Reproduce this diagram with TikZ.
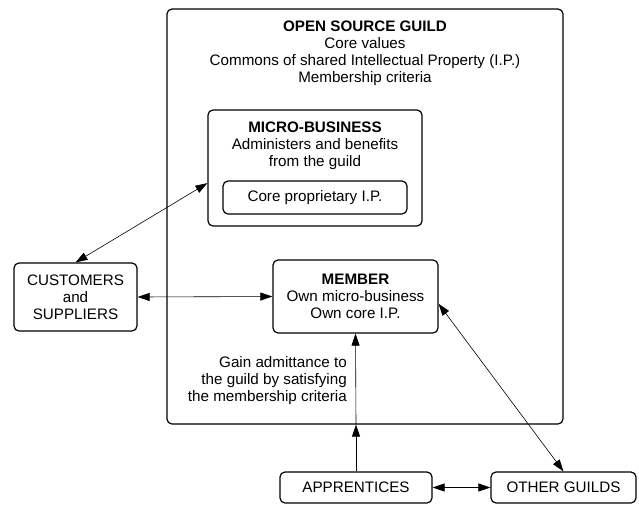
\documentclass[tikz,border=0pt]{standalone}
\usepackage{fontspec}
\setmainfont{Liberation Sans}
\usetikzlibrary{arrows.meta,calc}
\tikzstyle{box}   = [draw=black, line width=1.2pt, rounded corners=5pt, align=center, inner sep=0pt]
\tikzstyle{txt}   = [align=center, inner sep=0pt]
\tikzstyle{arrow} = [-{Triangle[length=12pt,width=8pt]}, line width=0.6pt, draw=black]
\tikzstyle{both}  = [{Triangle[length=12pt,width=8pt]}-{Triangle[length=12pt,width=8pt]}, line width=0.6pt, draw=black]

\begin{document}
\begin{tikzpicture}[x=1pt,y=-1pt,font=\fontsize{15.2}{17}\selectfont]
		\useasboundingbox (0,0) rectangle (639,504);

		% the guild and what sits inside it
		\node[box, minimum width=396pt, minimum height=415pt] (guild) at (365,216.5) {};
		\node[txt] (guildtxt) at (365,53) {\textbf{OPEN SOURCE GUILD}\\Core values\\Commons of shared Intellectual Property (I.P.)\\Membership criteria};

		\node[box, minimum width=214pt, minimum height=116pt] (micro) at (315,168) {};
		\node[txt] (microtxt) at (315,146) {\textbf{MICRO-BUSINESS}\\Administers and benefits\\from the guild};
		\node[box, minimum width=184pt, minimum height=33pt] (coreip) at (315,197.5) {Core proprietary I.P.};

		\node[box, minimum width=165pt, minimum height=73pt] (member) at (355.5,296.5) {\textbf{MEMBER}\\Own micro-business\\Own core I.P.};

		% outside the guild
		\node[box, minimum width=123pt, minimum height=68pt] (cust) at (75.5,297) {CUSTOMERS\\and\\SUPPLIERS};
		\node[box, minimum width=152pt, minimum height=31pt] (appr) at (356,487.5) {APPRENTICES};
		\node[box, minimum width=145pt, minimum height=31pt] (others) at (563.5,487.5) {OTHER GUILDS};

		\node[txt, anchor=east, align=right] (admit) at (347,381) {Gain admittance to\\the guild by satisfying\\the membership criteria};

		\coordinate (gate) at (appr.north |- guild.south);

		\draw[both] (cust.north) -- (micro.188);
		\draw[both] (cust.east) -- (member.west);
		\draw[arrow] (appr.north) -- (gate);
		\draw[arrow] (gate) -- (member.south);
		\draw[both] (member.-5) -- (others.north);
		\draw[both] (appr.east) -- (others.west);
	\end{tikzpicture}
\end{document}
